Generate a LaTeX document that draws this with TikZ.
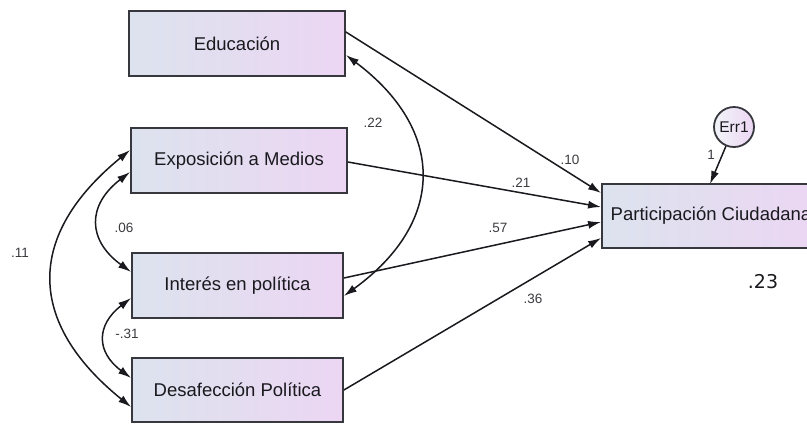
\documentclass[tikz,border=0pt]{standalone}
\usepackage{fontspec}
\setmainfont{Liberation Sans}
\newfontfamily\dejavu{DejaVu Sans}
\usetikzlibrary{arrows.meta}
\definecolor{boxL}{RGB}{220,227,238}
\definecolor{boxR}{RGB}{236,214,243}
\definecolor{edgec}{RGB}{55,55,62}
\definecolor{ink}{RGB}{25,25,30}
\begin{document}
\begin{tikzpicture}[x=1pt,y=-1pt,
  obsv/.style={draw=edgec, line width=1.8pt, left color=boxL, right color=boxR,
    minimum height=65pt, inner sep=0pt, text=ink, font=\fontsize{18.5}{20}\selectfont},
  coef/.style={font=\fontsize{13.5}{14}\selectfont, text=ink!85},
  regr/.style={draw=ink, line width=1.5pt, -{Latex[length=13pt,width=8pt]}},
  cov/.style={draw=ink, line width=1.5pt, {Latex[length=13pt,width=8pt]}-{Latex[length=13pt,width=8pt]}}]
\useasboundingbox (0,0) rectangle (807,424);
\clip (0,0) rectangle (807,424);
\fill[white] (0,0) rectangle (807,424);

% observed variables
\node[obsv, minimum width=216pt] (edu) at (237,43.5) {Educación};
\node[obsv, minimum width=216pt] (exp) at (239,160.5) {Exposición a Medios};
\node[obsv, minimum width=211pt] (int) at (237.5,285.5) {Interés en política};
\node[obsv, minimum width=211pt, minimum height=64pt] (des) at (237.5,390) {Desafección Política};
\node[obsv, minimum width=218pt, minimum height=64pt] (par) at (711,216) {Participación Ciudadana};
\node[circle, draw=edgec, line width=1.8pt, minimum size=40pt, inner sep=0pt,
  left color=boxL!40!white, right color=boxR, text=ink,
  font=\fontsize{15.5}{16}\selectfont] (err) at (734,127) {Err1};
\coordinate (etip) at (710,184);

% regression paths
\draw[regr] ([yshift=11.5pt]edu.east) -- ([yshift=23pt]par.west);
\draw[regr] ([yshift=-1.5pt]exp.east) -- ([yshift=9pt]par.west);
\draw[regr] ([yshift=7.5pt]int.east) -- ([yshift=-6pt]par.west);
\draw[regr] (des.east) -- ([yshift=-22pt]par.west);
\draw[regr] (err) -- (etip);

% covariances
\draw[cov] ([yshift=-11.5pt]edu.east) .. controls (446,130) and (446,222) .. ([yshift=-10.5pt]int.east);
\draw[cov] ([yshift=10.5pt]exp.west) .. controls (26,235) and (26,322) .. ([yshift=-17pt]des.west);
\draw[cov] ([yshift=-11.5pt]exp.west) .. controls (87,205) and (87,240) .. ([yshift=13.5pt]int.west);
\draw[cov] ([yshift=-12.5pt]int.west) .. controls (96,325) and (96,352) .. ([yshift=12pt]des.west);

% labels
\node[coef] (l22) at (373,123) {.22};
\node[coef] (l10) at (570,160) {.10};
\node[coef] (l21) at (521,183) {.21};
\node[coef] (l57) at (498,228) {.57};
\node[coef] (l36) at (533,299) {.36};
\node[coef] (l06) at (124,228) {.06};
\node[coef] (l11) at (20,253) {.11};
\node[coef] (l31) at (127,334) {-.31};
\node[coef] (l1) at (711,155) {1};
\node[text=ink, font=\dejavu\fontsize{19}{20}\selectfont] (r2) at (763,282) {.23};
\end{tikzpicture}
\end{document}
